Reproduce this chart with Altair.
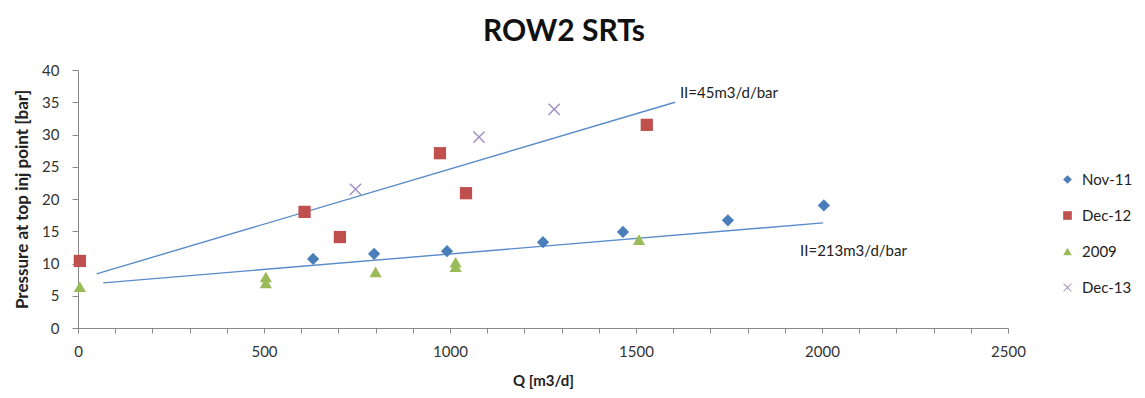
import altair as alt
import pandas as pd

# ---- data ----
nov11_q = [632, 796, 992, 1250, 1465, 1747, 2005]
nov11_p = [10.7, 11.5, 11.9, 13.3, 14.9, 16.7, 19.0]
dec12_q = [5, 609, 704, 973, 1043, 1529]
dec12_p = [10.4, 18.0, 14.1, 27.1, 20.9, 31.5]
y2009_q = [5, 505, 505, 800, 1015, 1015, 1508]
y2009_p = [6.4, 7.0, 7.9, 8.7, 9.5, 10.2, 13.7]
dec13_q = [746, 1078, 1280]
dec13_p = [21.5, 29.6, 33.9]

series_names = ["Nov-11", "Dec-12", "2009", "Dec-13"]
series_colors = ["#4A7EBB", "#C0504D", "#9BBB59", "#9F8DC0"]

trend_upper_q = [50, 1605]
trend_upper_p = [8.4, 35.0]
trend_lower_q = [68, 2003]
trend_lower_p = [7.0, 16.3]

label_texts = ["II=45m3/d/bar", "II=213m3/d/bar"]
label_q = [1618, 1941]
label_p = [36.4, 11.9]

x_tick_values = list(range(0, 2600, 100))
y_tick_values = list(range(0, 45, 5))

# ---- tables ----
rows = []
for name, qs, ps in [("Nov-11", nov11_q, nov11_p), ("Dec-12", dec12_q, dec12_p),
                     ("2009", y2009_q, y2009_p), ("Dec-13", dec13_q, dec13_p)]:
    for q, p in zip(qs, ps):
        rows.append({"series": name, "Q": q, "P": p})
pts = pd.DataFrame(rows)

trend = pd.DataFrame(
    [{"line": "upper", "Q": q, "P": p} for q, p in zip(trend_upper_q, trend_upper_p)]
    + [{"line": "lower", "Q": q, "P": p} for q, p in zip(trend_lower_q, trend_lower_p)]
)
labels = pd.DataFrame({"text": label_texts, "Q": label_q, "P": label_p})

FONT = "Lato"
X_PATH = ("M-1,-0.84L-0.84,-1L0,-0.16L0.84,-1L1,-0.84L0.16,0L1,0.84L0.84,1"
          "L0,0.16L-0.84,1L-1,0.84L-0.16,0Z")

xscale = alt.Scale(domain=[0, 2500], nice=False, zero=False)
yscale = alt.Scale(domain=[0, 40], nice=False)

xaxis = alt.Axis(values=x_tick_values, format="d",
                 labelExpr="datum.value % 500 === 0 ? datum.label : ''",
                 labelOverlap=False, labelFlush=False,
                 grid=False, tickSize=5, labelPadding=11, title="Q [m3/d]",
                 titlePadding=14, titleFontSize=15)
yaxis = alt.Axis(values=y_tick_values, grid=False, tickSize=6, labelPadding=13,
                 labelOverlap=False, labelFlush=False,
                 title="Pressure at top inj point [bar]", titlePadding=10,
                 titleFontSize=17)

X = alt.X("Q:Q", scale=xscale, axis=xaxis)
Y = alt.Y("P:Q", scale=yscale, axis=yaxis)

lines = alt.Chart(trend).mark_line(color="#5B8CC8", strokeWidth=1.4).encode(
    x=X, y=Y, detail="line:N",
)

points = alt.Chart(pts).mark_point(filled=True, opacity=1, size=150).encode(
    x=X, y=Y,
    color=alt.Color("series:N",
                    scale=alt.Scale(domain=series_names, range=series_colors),
                    legend=alt.Legend(title=None, orient="none", legendX=982, legendY=102,
                                      symbolSize=75, labelFontSize=15, labelFont=FONT,
                                      labelColor="#222", rowPadding=20, labelOffset=7,
                                      padding=0)),
    shape=alt.Shape("series:N",
                    scale=alt.Scale(domain=series_names,
                                    range=["diamond", "square", "triangle-up", X_PATH])),
)

texts = alt.Chart(labels).mark_text(align="left", baseline="middle", font=FONT,
                                    fontSize=15, color="#222").encode(
    x=X, y=Y, text="text:N",
)

chart = alt.layer(lines, points, texts).properties(
    width=930, height=258,
    title=alt.TitleParams("ROW2 SRTs", font=FONT, fontSize=30, fontWeight="bold",
                          color="#111", anchor="middle", dx=21, offset=16),
    autosize=alt.AutoSizeParams(type="none"),
    padding={"left": 70, "top": 62, "right": 129, "bottom": 62},
).configure_view(stroke=None).configure_axis(
    domainColor="#888", tickColor="#888", labelFont=FONT, labelFontSize=15,
    labelColor="#333", titleFont=FONT, titleFontWeight="bold",
    titleColor="#222",
)

chart.save("out.html", embed_options={"renderer": "svg", "actions": False})
